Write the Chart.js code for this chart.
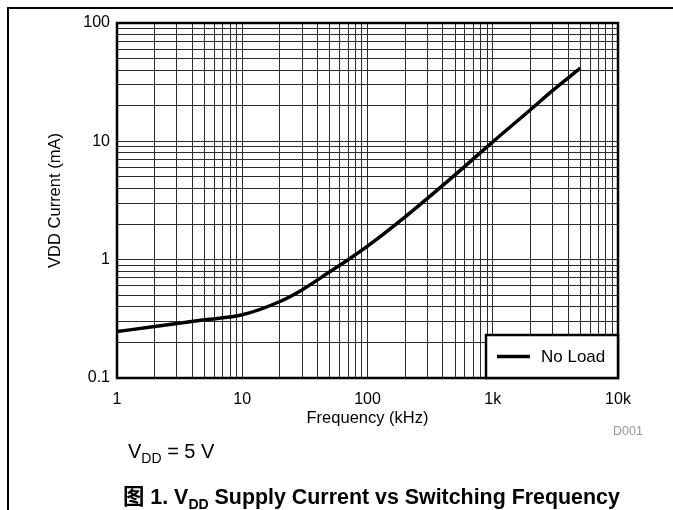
<!DOCTYPE html>
<html>
<head>
<meta charset="utf-8">
<script src="https://cdn.jsdelivr.net/npm/chart.js@4/dist/chart.umd.min.js"></script>
<style>
  body { margin: 0; background: #fff; }
  #wrap { position: relative; width: 673px; height: 510px; overflow: hidden; font-family: "Liberation Sans", Arial, "Noto Sans CJK SC", sans-serif; }
  #frameTop { position: absolute; left: 7px; top: 7px; width: 666px; height: 2px; background: #000; }
  #frameLeft { position: absolute; left: 7px; top: 7px; width: 2px; height: 503px; background: #000; }
  #cond { position: absolute; left: 128px; top: 440px; font-size: 20px; color: #000; }
  #cond sub { font-size: 14px; vertical-align: -5px; line-height: 0; }
  #code { position: absolute; left: 613px; top: 424px; font-size: 12.5px; color: #999; }
  #caption { position: absolute; left: 123px; top: 479px; font-size: 21.4px; font-weight: bold; color: #000; white-space: nowrap; }
  #caption sub { font-size: 14px; vertical-align: -5px; line-height: 0; }
  canvas { position: absolute; left: 0; top: 0; }
</style>
</head>
<body>
<div id="wrap">
  <canvas id="vdd-chart" width="673" height="510"></canvas>
  <div id="frameTop"></div>
  <div id="frameLeft"></div>
  <div id="code">D001</div>
  <div id="cond">V<sub>DD</sub> = 5 V</div>
  <div id="caption">图 1. V<sub>DD</sub> Supply Current vs Switching Frequency</div>
</div>
<script>
// values
const freqKHz = [1, 2, 5, 10, 20, 30, 50, 77, 100, 200, 500, 1000, 2000, 3000, 5000];
const vddCurrentMA = [0.247, 0.272, 0.31, 0.342, 0.443, 0.555, 0.79, 1.07, 1.3, 2.3, 5.2, 9.9, 18.5, 26.8, 41.5];
const seriesLabel = 'No Load';

// axis decades and their labels
const xDecades = [1, 10, 100, 1000, 10000];
const xDecadeLabels = ['1', '10', '100', '1k', '10k'];
const yDecades = [0.1, 1, 10, 100];
const yDecadeLabels = ['0.1', '1', '10', '100'];
const minorSteps = [1, 2, 3, 4, 5, 6, 7, 8, 9];

function gridValues(decades) {
    const out = [];
    decades.slice(0, -1).forEach(d => minorSteps.forEach(s => out.push(parseFloat((d * s).toPrecision(6)))));
    out.push(decades[decades.length - 1]);
    return out;
}

function decadeLabel(decades, labels, value) {
    const i = decades.findIndex(d => Math.abs(d - value) / d < 1e-6);
    return i >= 0 ? labels[i] : '';
}

const frameAndLegend = {
    id: 'frameAndLegend',
    afterDraw(chart) {
        const ctx = chart.ctx;
        const a = chart.chartArea;
        const ds = chart.data.datasets[0];
        ctx.save();
        ctx.strokeStyle = '#000';
        ctx.lineWidth = 2.5;
        ctx.strokeRect(a.left, a.top, a.right - a.left, a.bottom - a.top);

        // legend box in the lower right corner
        const w = 132, h = 43;
        const lx = a.right - w, ly = a.bottom - h;
        ctx.fillStyle = '#fff';
        ctx.fillRect(lx, ly, w, h);
        ctx.strokeRect(lx, ly, w, h);
        ctx.beginPath();
        ctx.lineWidth = ds.borderWidth;
        ctx.moveTo(lx + 11, ly + h / 2);
        ctx.lineTo(lx + 44, ly + h / 2);
        ctx.stroke();
        ctx.fillStyle = '#000';
        ctx.font = '17px "Liberation Sans", Arial, sans-serif';
        ctx.textBaseline = 'middle';
        ctx.fillText(ds.label, lx + 55, ly + h / 2 + 1);
        ctx.restore();
    }
};

const gridColor = '#2a2a2a';

new Chart(document.querySelector('#vdd-chart').getContext('2d'), {
    type: 'line',
    data: {
        datasets: [{
            label: seriesLabel,
            data: freqKHz.map((f, i) => ({x: f, y: vddCurrentMA[i]})),
            borderColor: '#000',
            backgroundColor: '#000',
            borderWidth: 3.5,
            pointRadius: 0,
            cubicInterpolationMode: 'monotone',
            fill: false
        }]
    },
    options: {
        responsive: false,
        animation: false,
        layout: {padding: {left: 0, top: 23, right: 55, bottom: 0}},
        plugins: {
            legend: {display: false},
            tooltip: {enabled: false}
        },
        scales: {
            x: {
                type: 'logarithmic',
                min: 1,
                max: 10000,
                afterBuildTicks: scale => { scale.ticks = gridValues(xDecades).map(v => ({value: v})); },
                afterFit: scale => { scale.height = 132; },
                grid: {color: gridColor, lineWidth: 1, drawTicks: false},
                border: {display: false},
                ticks: {
                    autoSkip: false,
                    maxRotation: 0,
                    padding: 12,
                    color: '#000',
                    font: {family: '"Liberation Sans", Arial, sans-serif', size: 16},
                    callback: value => decadeLabel(xDecades, xDecadeLabels, value)
                },
                title: {
                    display: true,
                    text: 'Frequency (kHz)',
                    color: '#000',
                    font: {family: '"Liberation Sans", Arial, sans-serif', size: 16.5},
                    padding: {top: 0, bottom: 82}
                }
            },
            y: {
                type: 'logarithmic',
                min: 0.1,
                max: 100,
                afterBuildTicks: scale => { scale.ticks = gridValues(yDecades).map(v => ({value: v})); },
                afterFit: scale => { scale.width = 117; },
                grid: {color: gridColor, lineWidth: 1, drawTicks: false},
                border: {display: false},
                ticks: {
                    autoSkip: false,
                    padding: 7,
                    color: '#000',
                    font: {family: '"Liberation Sans", Arial, sans-serif', size: 16},
                    callback: value => decadeLabel(yDecades, yDecadeLabels, value)
                },
                title: {
                    display: true,
                    text: 'VDD Current (mA)',
                    color: '#000',
                    font: {family: '"Liberation Sans", Arial, sans-serif', size: 16.5},
                    padding: {top: 46, bottom: 0}
                }
            }
        }
    },
    plugins: [frameAndLegend]
});
</script>
</body>
</html>
